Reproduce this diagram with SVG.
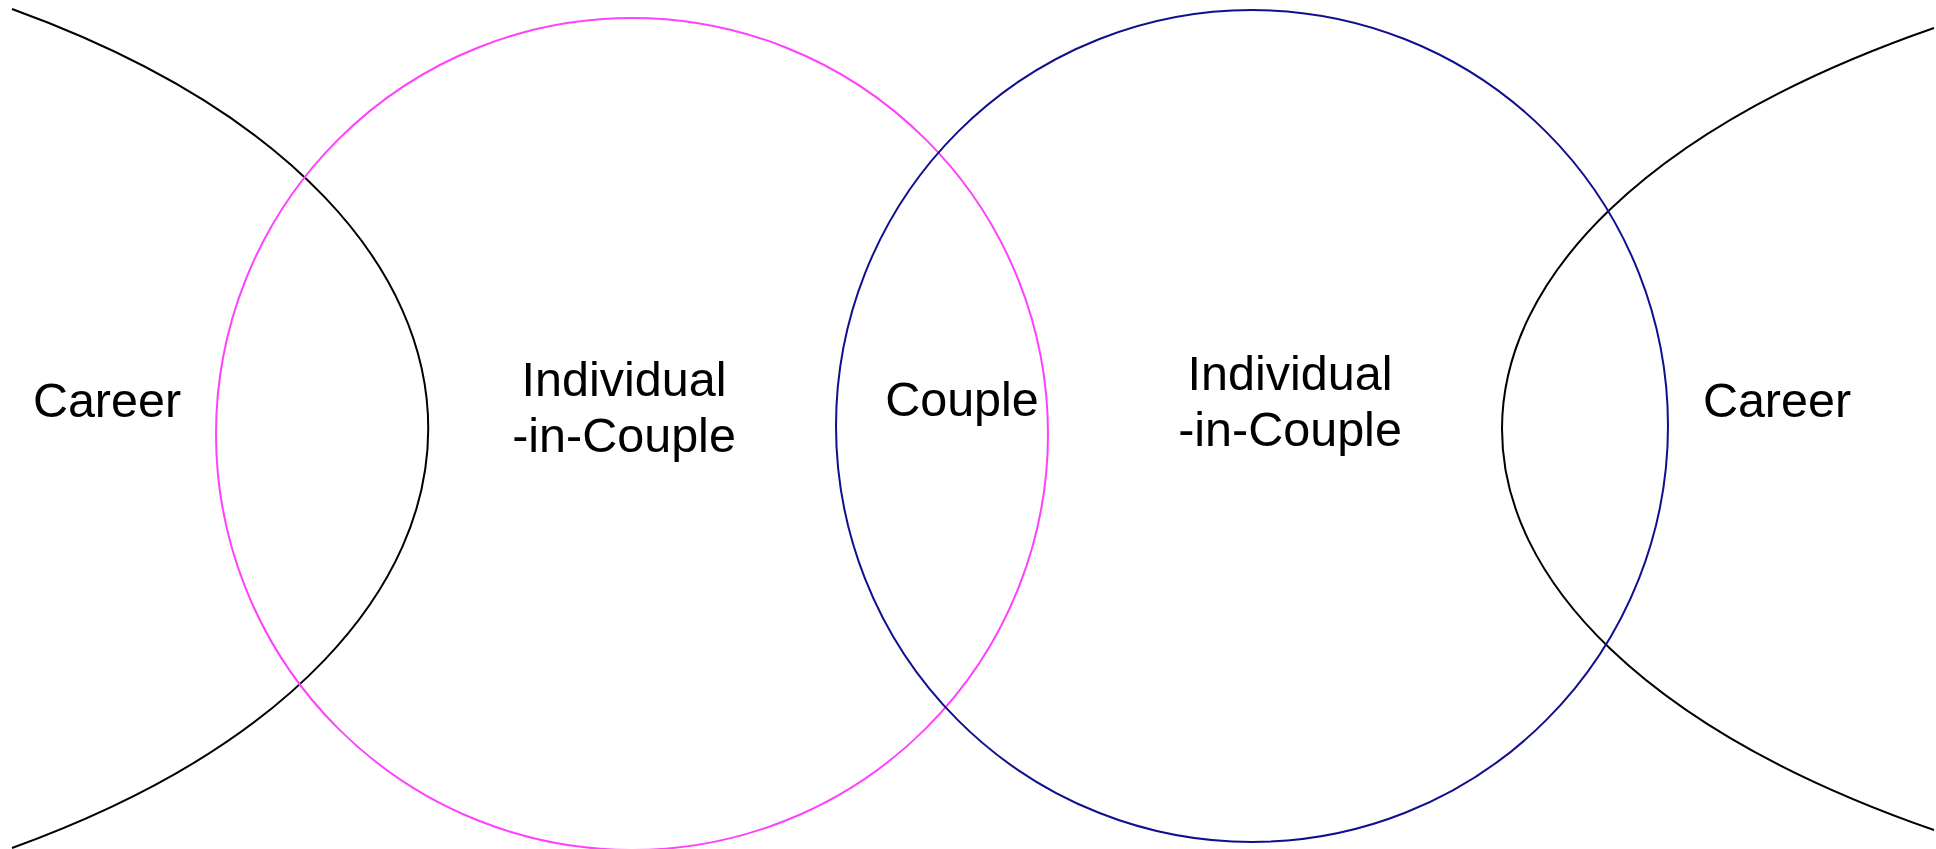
<svg xmlns="http://www.w3.org/2000/svg" width="1936" height="849" viewBox="0 0 1936 849">
  <style>
    .lbl { font-family: "Liberation Sans", Arial, sans-serif; font-size: 48.5px; fill: #000; text-anchor: middle; }
    .curve { fill: none; stroke: #000; stroke-width: 2; }
  </style>
  <rect width="1936" height="849" fill="#fff"/>
  <g id="connectors">
    <path id="career-left-curve" class="curve" d="M12,9 C567,210 567,647 12,848"/>
    <path id="career-right-curve" class="curve" d="M1934,28 C1358,228 1358,630 1934,830"/>
  </g>
  <g id="individual-left">
    <circle cx="632" cy="434" r="416" fill="none" stroke="#FF40FF" stroke-width="2"/>
    <text class="lbl" x="624" y="396">Individual</text>
    <text class="lbl" x="624" y="452">-in-Couple</text>
  </g>
  <g id="individual-right">
    <circle cx="1252" cy="426" r="416" fill="none" stroke="#10108F" stroke-width="2"/>
    <text class="lbl" x="1290" y="390">Individual</text>
    <text class="lbl" x="1290" y="446">-in-Couple</text>
  </g>
  <g id="couple">
    <text class="lbl" x="962" y="416">Couple</text>
  </g>
  <g id="career-left">
    <text class="lbl" x="107" y="417">Career</text>
  </g>
  <g id="career-right">
    <text class="lbl" x="1777" y="417">Career</text>
  </g>
</svg>
